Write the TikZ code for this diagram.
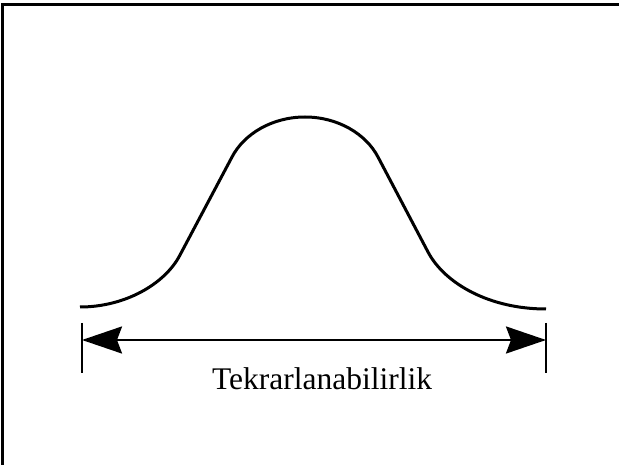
\documentclass[tikz,border=0pt]{standalone}
\usepackage{fontspec}
\setmainfont{Liberation Serif}
\usetikzlibrary{arrows.meta, positioning}

\begin{document}
\begin{tikzpicture}[
    x=1pt, y=-1pt,
    frameline/.style = {line width=3pt, black},
    curveline/.style = {line width=3pt, black, line join=round},
    tickline/.style = {line width=2.6pt, black},
    arr/.style = {{Stealth[length=40pt, width=27pt, inset=5pt]}-{Stealth[length=40pt, width=27pt, inset=5pt]}, line width=2.4pt},
    tagtext/.style = {font=\fontsize{31.5}{36}\selectfont, anchor=base, inner sep=0pt},
]
\useasboundingbox (0,0) rectangle (619,465);

% Frame (right and bottom edges lie outside the page)
\draw[frameline] (2,5) rectangle (630,475);

% Bell curve
\draw[curveline] (80,307) .. controls (125,307) and (165,284) .. (180,255)
    -- (232,157) .. controls (244,134) and (272,117) .. (305,117)
    .. controls (338,117) and (366,134) .. (378,157)
    -- (428,252) .. controls (445,284) and (490,309) .. (546,309);

% Ticks
\coordinate (ltop) at (82,323);
\coordinate (lbot) at (82,373);
\coordinate (rtop) at (546,323);
\coordinate (rbot) at (546,373);
\coordinate (lmid) at (82,340);
\coordinate (rmid) at (546,340);
\draw[tickline] (ltop) -- (lbot);
\draw[tickline] (rtop) -- (rbot);

% Arrow
\draw[arr] (lmid) -- (rmid);

% Text
\node[tagtext] (rep) at (322,389) {Tekrarlanabilirlik};

\end{tikzpicture}
\end{document}
